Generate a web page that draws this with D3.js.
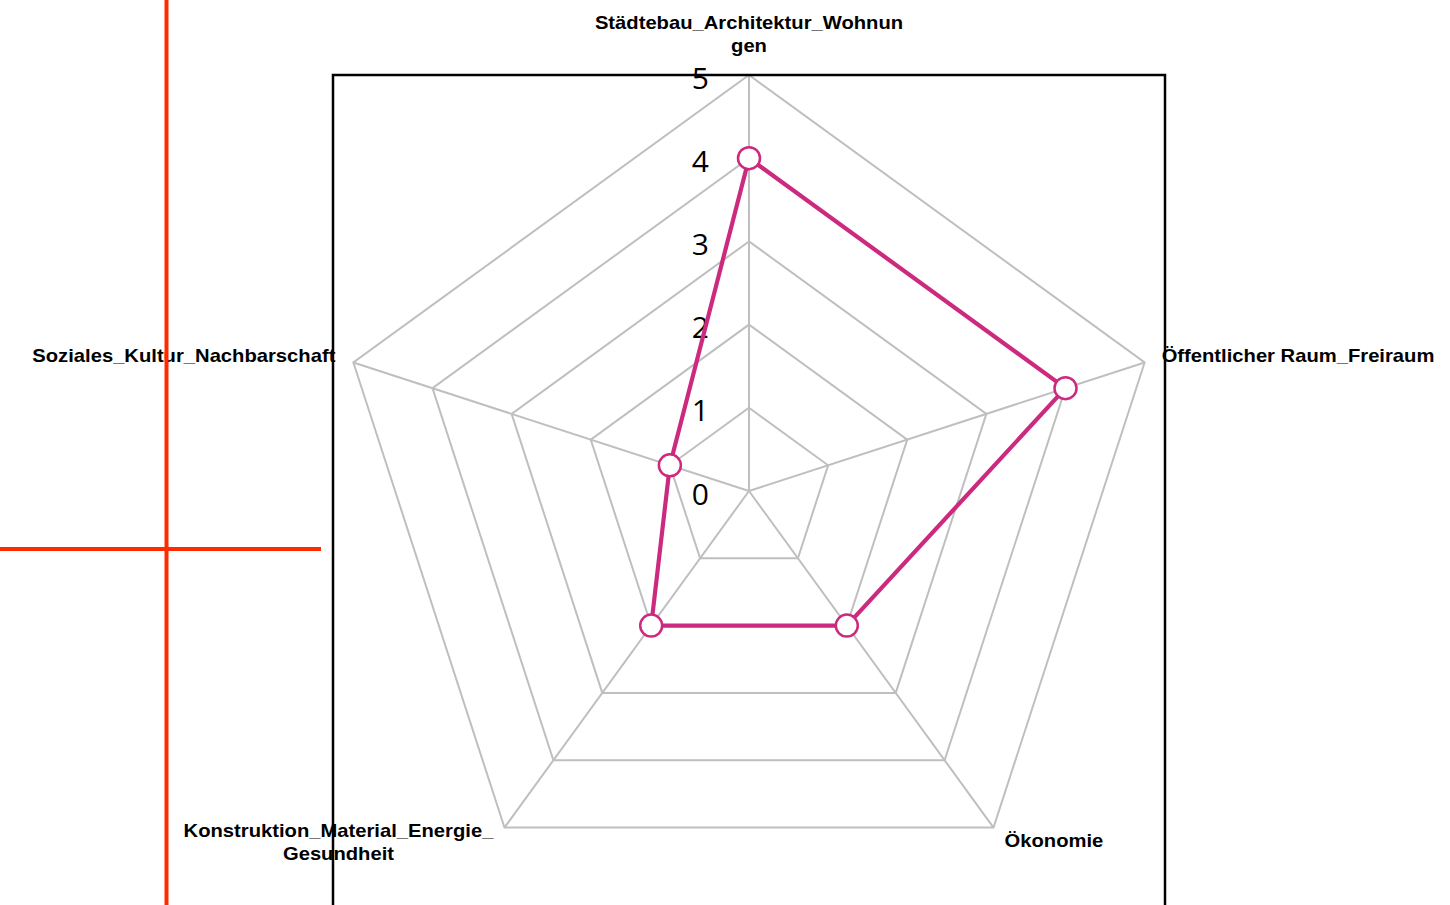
<!DOCTYPE html>
<html>
<head>
<meta charset="utf-8">
<script src="https://cdn.jsdelivr.net/npm/d3@7"></script>
<style>
  html, body { margin: 0; padding: 0; background: #fff; }
  svg { display: block; }
</style>
</head>
<body>
<svg id="chart" width="1450" height="905"></svg>
<script>
// ---- data ----
const categories = [
  "Städtebau_Architektur_Wohnungen",
  "Öffentlicher Raum_Freiraum",
  "Ökonomie",
  "Konstruktion_Material_Energie_Gesundheit",
  "Soziales_Kultur_Nachbarschaft"
];
// category labels as wrapped in the picture
const categoryLines = [
  ["Städtebau_Architektur_Wohnun", "gen"],
  ["Öffentlicher Raum_Freiraum"],
  ["Ökonomie"],
  ["Konstruktion_Material_Energie_", "Gesundheit"],
  ["Soziales_Kultur_Nachbarschaft"]
];
const values = [4, 4, 2, 2, 1];
const tickValues = [0, 1, 2, 3, 4, 5];
const tickLabels = ["0", "1", "2", "3", "4", "5"];

// ---- layout ----
const W = 1450, H = 905;
const cx = 749, cy = 491, R = 416;
const svg = d3.select("#chart");

const r = d3.scaleLinear().domain([0, 5]).range([0, R]);
const angle = d3.scalePoint().domain(categories).range([0, 2 * Math.PI * (categories.length - 1) / categories.length]);
const pt = (cat, v) => {
  const a = angle(cat);
  return [cx + r(v) * Math.sin(a), cy - r(v) * Math.cos(a)];
};

const g = svg.append("g");

// grid rings
tickValues.filter(t => t > 0).forEach(t => {
  g.append("path")
    .attr("d", d3.line()(categories.map(c => pt(c, t))) + "Z")
    .attr("fill", "none").attr("stroke", "#bfbfbf").attr("stroke-width", 2);
});
// spokes
categories.forEach(c => {
  const [x, y] = pt(c, 5);
  g.append("line").attr("x1", cx).attr("y1", cy).attr("x2", x).attr("y2", y)
    .attr("stroke", "#bfbfbf").attr("stroke-width", 2);
});

// tick labels
g.selectAll(".tick").data(tickValues).enter().append("text")
  .attr("x", cx - 40)
  .attr("y", d => cy - r(d) + 2)
  .attr("text-anchor", "end")
  .attr("dominant-baseline", "central")
  .attr("font-family", "'Open Sans', sans-serif")
  .attr("font-size", 30)
  .attr("fill", "#000")
  .text((d, i) => tickLabels[i]);

// series
const lineData = categories.map((c, i) => pt(c, values[i]));
g.append("path")
  .attr("d", d3.line()(lineData) + "Z")
  .attr("fill", "none").attr("stroke", "#cc2a7e").attr("stroke-width", 4.2)
  .attr("stroke-linejoin", "round");
g.selectAll(".dot").data(lineData).enter().append("circle")
  .attr("cx", d => d[0]).attr("cy", d => d[1]).attr("r", 11)
  .attr("fill", "#fff").attr("stroke", "#cc2a7e").attr("stroke-width", 2.5);

// category labels (offsets from the outer vertex)
const labelOffsets = [
  { dx: 0, dy: -52, anchor: "middle" },
  { dx: 17, dy: -6, anchor: "start" },
  { dx: 11, dy: 13, anchor: "start" },
  { dx: -166, dy: 3, anchor: "middle" },
  { dx: -18, dy: -6, anchor: "end" }
];
categories.forEach((c, i) => {
  const [x, y] = pt(c, 5);
  const o = labelOffsets[i];
  const t = g.append("text")
    .attr("transform", `translate(${x + o.dx},${y + o.dy}) scale(1.155,1)`)
    .attr("text-anchor", o.anchor)
    .attr("font-family", "'Liberation Sans', Arial, sans-serif")
    .attr("font-weight", "bold").attr("font-size", 17.5).attr("fill", "#000");
  categoryLines[i].forEach((line, j) => {
    t.append("tspan").attr("x", 0).attr("dy", j === 0 ? 0 : 23)
      .attr("dominant-baseline", "central").text(line);
  });
});

// black frame
svg.append("rect").attr("x", 333).attr("y", 75).attr("width", 832).attr("height", 900)
  .attr("fill", "none").attr("stroke", "#000").attr("stroke-width", 2.5);

// red crosshair
svg.append("line").attr("x1", 166.5).attr("y1", 0).attr("x2", 166.5).attr("y2", H)
  .attr("stroke", "#ff2a00").attr("stroke-width", 4);
svg.append("line").attr("x1", 0).attr("y1", 549).attr("x2", 321).attr("y2", 549)
  .attr("stroke", "#ff2a00").attr("stroke-width", 4);
</script>
</body>
</html>
